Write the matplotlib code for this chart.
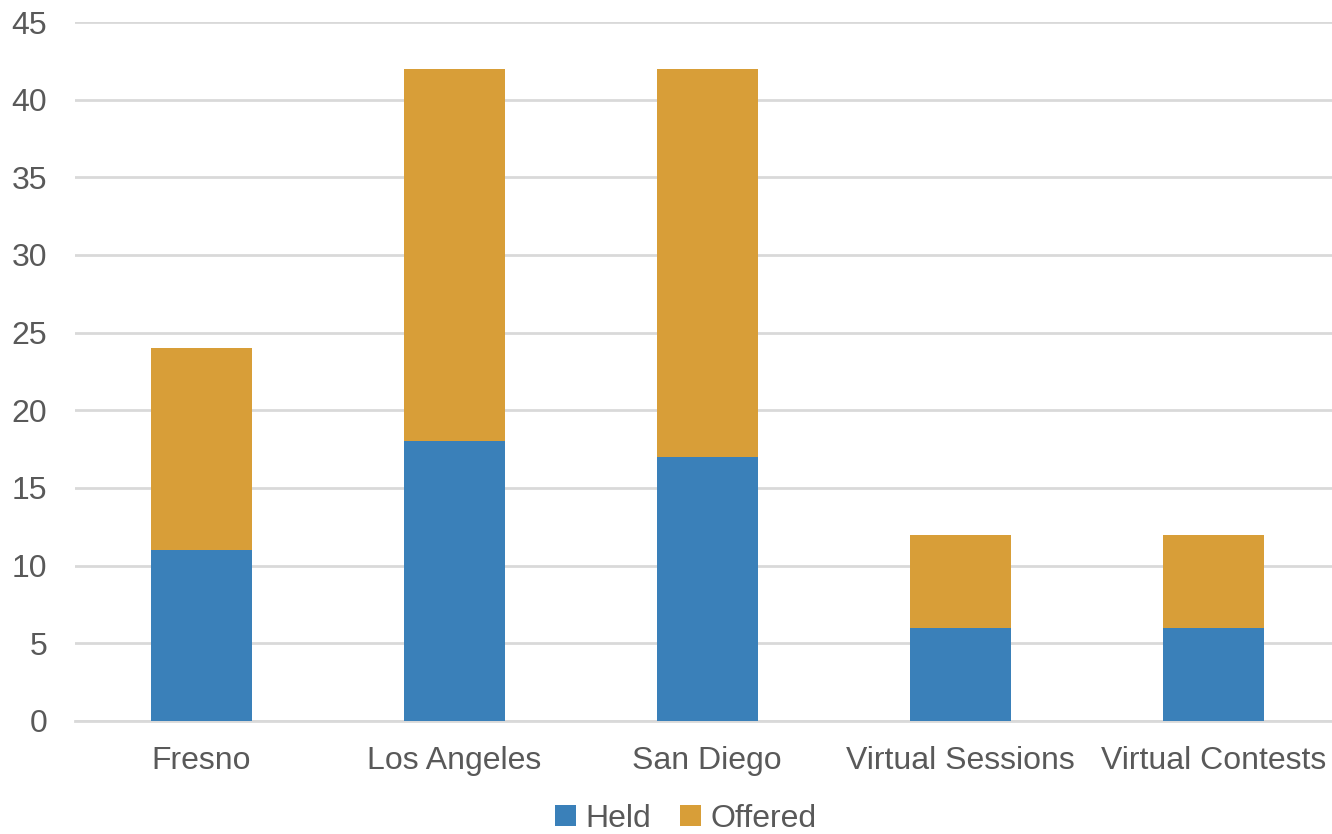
import matplotlib
matplotlib.use('Agg')
import matplotlib.pyplot as plt
import numpy as np

plt.rcParams['font.family'] = ['Liberation Sans', 'DejaVu Sans']

# data
sites = ['Fresno', 'Los Angeles', 'San Diego', 'Virtual Sessions', 'Virtual Contests']
held = [11, 18, 17, 6, 6]
offered = [13, 24, 25, 6, 6]

blue = '#3A80B9'
gold = '#D89E38'
grey = '#595959'

fig = plt.figure(figsize=(13.32, 8.34), dpi=100)
ax = fig.add_axes([75 / 1332, 1 - 721 / 834, 1 - 75 / 1332, (721 - 22) / 834])

x = np.arange(len(sites))
ax.bar(x, held, width=0.4, color=blue, label='Held', zorder=3)
ax.bar(x, offered, width=0.4, bottom=held, color=gold, label='Offered', zorder=3)

ax.set_ylim(0, 45)
ax.set_xlim(-0.5, 4.47)
ax.set_yticks(range(0, 46, 5))
ax.set_xticks(x)
ax.set_xticklabels(sites)
ax.tick_params(axis='both', length=0, labelsize=23, colors=grey)
ax.tick_params(axis='x', pad=18)
ax.tick_params(axis='y', pad=20)

ax.yaxis.grid(True, color='#D9D9D9', linewidth=2, zorder=0)
for s in ['top', 'right', 'left']:
    ax.spines[s].set_visible(False)
ax.spines['bottom'].set_color('#D9D9D9')
ax.spines['bottom'].set_linewidth(2)

leg = fig.legend(loc='lower center', bbox_to_anchor=(686 / 1332, -0.034),
                 ncol=2, frameon=False, fontsize=23, handlelength=0.65, handleheight=0.65,
                 handletextpad=0.3, columnspacing=0.9, labelcolor=grey)

fig.savefig('out.png', dpi=100)
